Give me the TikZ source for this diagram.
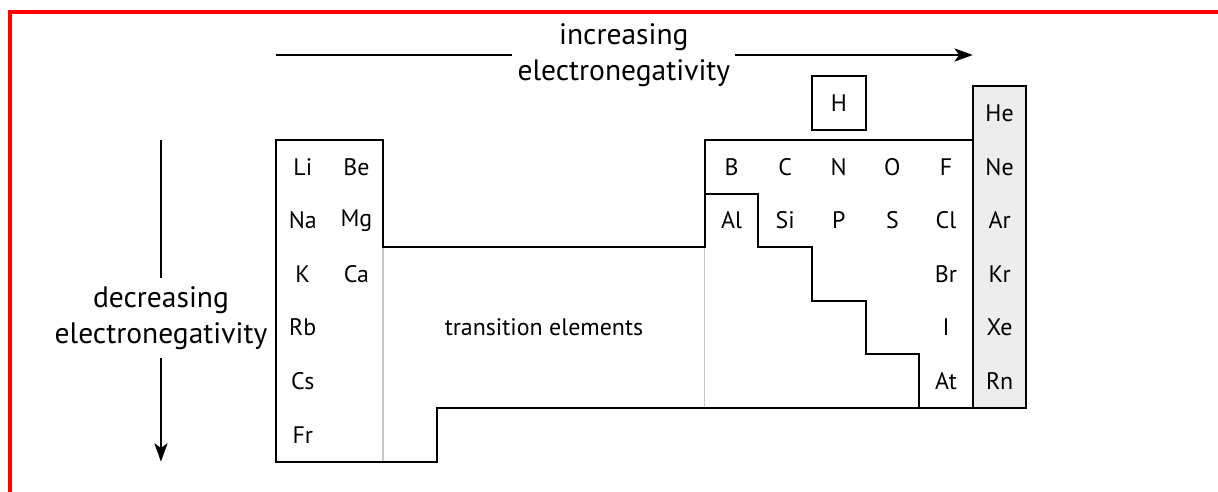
\documentclass[tikz,border=0pt]{standalone}
\usepackage{fontspec}
\setmainfont{PT Sans}
\usepackage{xcolor}
\usepackage{tikz}
\usetikzlibrary{arrows.meta, positioning}

\begin{document}
\begin{tikzpicture}[x=1.34cm, y=-1.34cm, >={Stealth[length=4.6mm, width=3.3mm, inset=1.2mm]},
  elem/.style={font=\fontsize{17}{20}\selectfont, inner sep=0pt},
  trend/.style={font=\fontsize{21}{25.6}\selectfont, align=center, inner xsep=0.12cm, inner ysep=0.2cm},
  outline/.style={draw, line width=1.4pt},
  faint/.style={draw, black!22, line width=1pt},
  line/.style={draw, line width=1.1pt}]

  \useasboundingbox (-5.149,-2.612) rectangle (17.575,6.567);
  % red frame, cut off at the right and bottom
  \draw [red, line width=2.8pt] (-4.963,6.567) |- (17.575,-2.388);

  % noble gas column
  \fill [black!7] (13,-1) rectangle (14,5);

  % table outline
  \path [faint] (2,2) -- (2,6);
  \path [faint] (8,2) -- (8,5);
  \path [outline] (0,0) -- (2,0) -- (2,2) -- (8,2) -- (8,0) -- (13,0) -- (13,-1) -- (14,-1)
    -- (14,5) -- (3,5) -- (3,6) -- (0,6) -- cycle;
  \path [outline] (13,0) -- (13,5);
  \path [outline] (8,1) -- (9,1) -- (9,2) -- (10,2) -- (10,3) -- (11,3) -- (11,4) -- (12,4) -- (12,5);

  \node [elem, draw, line width=1.4pt, minimum size=1.34cm] (H) at (10.5,-0.69) {H};

  % elements, by column
  \foreach \s [count=\r from 0] in {Li, Na, K, Rb, Cs, Fr}
    \node [elem] (\s) at (0.5,\r+0.5) {\s};
  \foreach \s [count=\r from 0] in {Be, Mg, Ca}
    \node [elem] (\s) at (1.5,\r+0.5) {\s};
  \foreach \s [count=\c from 8] in {B, C, N, O, F}
    \node [elem] (\s) at (\c+0.5,0.5) {\s};
  \foreach \s [count=\c from 8] in {Al, Si, P, S, Cl}
    \node [elem] (\s) at (\c+0.5,1.5) {\s};
  \foreach \s [count=\r from 2] in {Br, I, At}
    \node [elem] (\s) at (12.5,\r+0.5) {\s};
  \foreach \s [count=\r from -1] in {He, Ne, Ar, Kr, Xe, Rn}
    \node [elem] (\s) at (13.5,\r+0.5) {\s};

  \node [elem] (trans) at (5,3.5) {transition elements};

  % trends
  \node [trend] (incr) at (6.49,-1.586) {increasing\\electronegativity};
  \coordinate (hstart) at (0,-1.586);
  \coordinate (hend) at (13,-1.586);
  \path [line] (hstart) -- (incr);
  \path [line, ->] (incr) -- (hend);

  \node [trend] (decr) at (-2.146,3.32) {decreasing\\electronegativity};
  \coordinate (vstart) at (-2.146,0);
  \coordinate (vend) at (-2.146,6);
  \path [line] (vstart) -- (decr);
  \path [line, ->] (decr) -- (vend);
\end{tikzpicture}
\end{document}
